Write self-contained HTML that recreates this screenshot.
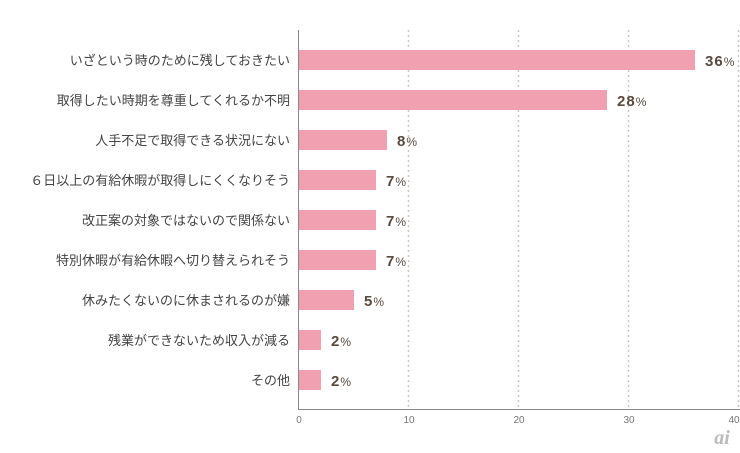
<!DOCTYPE html>
<html><head><meta charset="utf-8"><style>
body{margin:0;background:#fff;}
svg{display:block;}
</style></head><body>
<svg width="740" height="453" xmlns="http://www.w3.org/2000/svg" font-family="'Liberation Sans','Noto Sans CJK JP',sans-serif">
<g stroke="#c8c8c8" stroke-width="1.5" stroke-dasharray="2,3">
<line x1="408.5" y1="30" x2="408.5" y2="410"/>
<line x1="518.5" y1="30" x2="518.5" y2="410"/>
<line x1="628.5" y1="30" x2="628.5" y2="410"/>
<line x1="738.5" y1="30" x2="738.5" y2="410"/>
</g>
<line x1="298.5" y1="30" x2="298.5" y2="410" stroke="#888" stroke-width="1"/>
<line x1="298" y1="409.5" x2="740" y2="409.5" stroke="#888" stroke-width="1"/>
<g fill="#f0a0b1">
<rect x="299" y="50" width="396" height="20"/>
<rect x="299" y="90" width="308" height="20"/>
<rect x="299" y="130" width="88" height="20"/>
<rect x="299" y="170" width="77" height="20"/>
<rect x="299" y="210" width="77" height="20"/>
<rect x="299" y="250" width="77" height="20"/>
<rect x="299" y="290" width="55" height="20"/>
<rect x="299" y="330" width="22" height="20"/>
<rect x="299" y="370" width="22" height="20"/>
</g>
<g font-size="13" fill="#444" text-anchor="end">
<text x="290" y="65">いざという時のために残しておきたい</text>
<text x="290" y="105">取得したい時期を尊重してくれるか不明</text>
<text x="290" y="145">人手不足で取得できる状況にない</text>
<text x="290" y="185">６日以上の有給休暇が取得しにくくなりそう</text>
<text x="290" y="225">改正案の対象ではないので関係ない</text>
<text x="290" y="265">特別休暇が有給休暇へ切り替えられそう</text>
<text x="290" y="305">休みたくないのに休まされるのが嫌</text>
<text x="290" y="345">残業ができないため収入が減る</text>
<text x="290" y="385">その他</text>
</g>
<g font-size="15" font-weight="bold" fill="#5a4a3e" letter-spacing="1">
<text x="705" y="66">36<tspan font-size="12" font-weight="normal">%</tspan></text>
<text x="617" y="106">28<tspan font-size="12" font-weight="normal">%</tspan></text>
<text x="397" y="146">8<tspan font-size="12" font-weight="normal">%</tspan></text>
<text x="386" y="186">7<tspan font-size="12" font-weight="normal">%</tspan></text>
<text x="386" y="226">7<tspan font-size="12" font-weight="normal">%</tspan></text>
<text x="386" y="266">7<tspan font-size="12" font-weight="normal">%</tspan></text>
<text x="364" y="306">5<tspan font-size="12" font-weight="normal">%</tspan></text>
<text x="331" y="346">2<tspan font-size="12" font-weight="normal">%</tspan></text>
<text x="331" y="386">2<tspan font-size="12" font-weight="normal">%</tspan></text>
</g>
<g font-size="10" fill="#777" text-anchor="middle">
<text x="299" y="423">0</text>
<text x="409" y="423">10</text>
<text x="519" y="423">20</text>
<text x="629" y="423">30</text>
<text x="734" y="423">40</text>
</g>
<text x="722" y="444" font-size="20" font-style="italic" font-weight="bold" fill="#bbb" text-anchor="middle" font-family="'Liberation Serif',serif">ai</text>
</svg>
</body></html>
